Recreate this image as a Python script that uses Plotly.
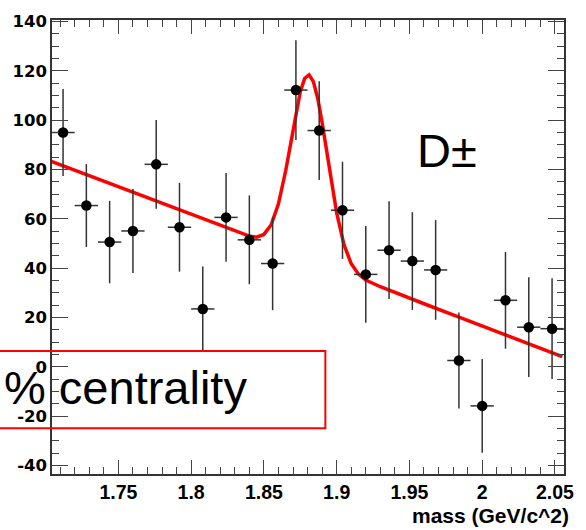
import plotly.graph_objects as go

# ---- data ----
mass = [1.712, 1.728, 1.744, 1.760, 1.776, 1.792, 1.808, 1.824, 1.840, 1.856, 1.872,
        1.888, 1.904, 1.920, 1.936, 1.952, 1.968, 1.984, 2.000, 2.016, 2.032, 2.048]
counts = [95.0, 65.4, 50.6, 55.1, 82.1, 56.6, 23.5, 60.6, 51.5, 41.9, 112.2,
          95.8, 63.5, 37.5, 47.3, 42.9, 39.3, 2.6, -15.8, 27.0, 16.1, 15.5]
count_err = [17.6, 16.8, 16.7, 17.0, 18.0, 18.0, 17.2, 18.0, 18.0, 18.9, 20.2,
             20.0, 19.7, 19.6, 19.8, 19.8, 20.2, 19.5, 19.0, 19.6, 20.2, 20.4]
half_bin = [0.008] * len(mass)

fit_mass = [1.704, 1.72, 1.74, 1.76, 1.78, 1.80, 1.82, 1.83, 1.835, 1.84, 1.845,
            1.85, 1.855, 1.86, 1.865, 1.87, 1.875, 1.878, 1.881, 1.884, 1.887,
            1.89, 1.895, 1.90, 1.905, 1.91, 1.915, 1.92, 1.93, 1.94, 1.96,
            1.98, 2.00, 2.02, 2.04, 2.055]
fit_vals = [83.3, 79.7, 75.2, 70.7, 66.2, 61.7, 57.2, 54.9, 53.9, 53.0, 52.6,
            53.7, 57.6, 66.1, 79.6, 96.5, 111.5, 116.9, 118.4, 115.6, 108.8,
            99.0, 80.0, 62.4, 49.6, 41.8, 37.6, 35.2, 32.5, 30.1, 25.6,
            21.1, 16.6, 12.1, 7.6, 4.2]

x_tickvals = [1.75, 1.8, 1.85, 1.9, 1.95, 2.0, 2.05]
x_ticktext = ["1.75", "1.8", "1.85", "1.9", "1.95", "2", "2.05"]
y_tickvals = [-40, -20, 0, 20, 40, 60, 80, 100, 120, 140]
y_ticktext = ["-40", "-20", "0", "20", "40", "60", "80", "100", "120", "140"]

x_range = [1.7044, 2.0562]
y_range = [-43.4, 140.6]

fig = go.Figure()

fig.add_trace(go.Scatter(
    x=fit_mass, y=fit_vals, mode="lines",
    line=dict(color="#ff0000", width=3.5),
    hoverinfo="skip", showlegend=False,
))

fig.add_trace(go.Scatter(
    x=mass, y=counts, mode="markers",
    marker=dict(color="black", size=10.5),
    error_y=dict(type="data", array=count_err, visible=True, color="#333333",
                 thickness=1.5, width=0),
    error_x=dict(type="data", array=half_bin, visible=True, color="#333333",
                 thickness=1.5, width=0),
    showlegend=False,
))

axis_common = dict(
    showline=True, linecolor="#333333", linewidth=1.5, mirror="allticks",
    ticks="inside", tickcolor="#444444", tickwidth=1.2,
    showgrid=False, zeroline=False,
)

fig.update_xaxes(
    range=x_range, tickmode="array", tickvals=x_tickvals, ticktext=x_ticktext,
    ticklen=14,
    tickfont=dict(family="Liberation Sans", size=19.5, color="black", weight="bold"),
    minor=dict(tickmode="linear", tick0=1.70, dtick=0.01, ticks="inside",
               ticklen=7, tickcolor="#444444", tickwidth=1.2, showgrid=False),
    **axis_common,
)
fig.update_yaxes(
    range=y_range, tickmode="array", tickvals=y_tickvals, ticktext=y_ticktext,
    ticklen=16,
    tickfont=dict(family="DejaVu Sans", size=16.5, color="black", weight="bold"),
    minor=dict(tickmode="linear", tick0=0, dtick=5, ticks="inside",
               ticklen=7, tickcolor="#444444", tickwidth=1.2, showgrid=False),
    **axis_common,
)

fig.add_shape(type="rect", xref="paper", yref="paper",
              x0=-0.11, x1=0.5339, y0=0.1007, y1=0.2711,
              line=dict(color="#ff0000", width=2), fillcolor="rgba(0,0,0,0)",
              layer="above")

fig.add_annotation(text="D±", xref="x", yref="y", x=1.9537, y=87.6,
                   xanchor="left", yanchor="middle", showarrow=False,
                   font=dict(family="Liberation Sans", size=47, color="black"))
fig.add_annotation(text="% centrality", xref="x", yref="y", x=1.8398, y=-8.2,
                   xanchor="right", yanchor="middle", showarrow=False,
                   font=dict(family="Liberation Sans", size=47, color="black"))
fig.add_annotation(text="mass (GeV/c^2)", xref="paper", yref="paper",
                   x=1.0133, y=-0.0913, xanchor="right", yanchor="middle",
                   showarrow=False,
                   font=dict(family="Liberation Sans", size=21, color="black",
                             weight="bold"))

fig.update_layout(
    width=586, height=530,
    margin=dict(l=47, r=14, t=14, b=56),
    paper_bgcolor="white", plot_bgcolor="white",
)

fig.write_html("out.html")
